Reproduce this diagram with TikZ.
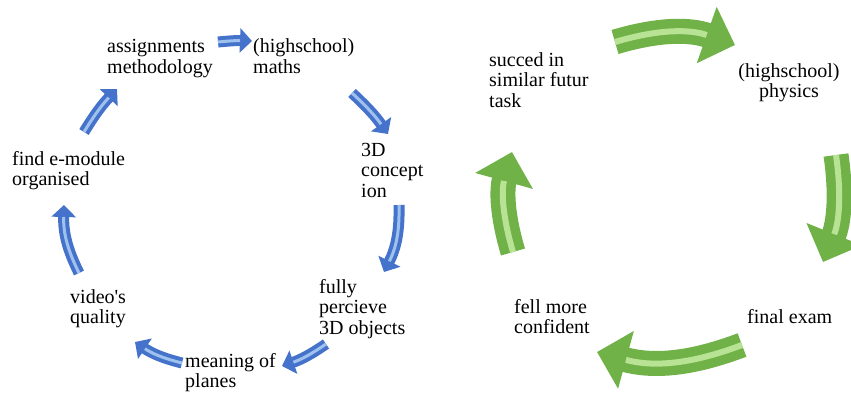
\documentclass[tikz,border=0pt]{standalone}
\usepackage{fontspec}
\setmainfont{Liberation Serif}
\usepackage{xcolor}
\definecolor{cycleblue}{rgb}{0.27, 0.45, 0.80}
\definecolor{paleblue}{rgb}{0.62, 0.76, 0.93}
\definecolor{cyclegreen}{rgb}{0.44, 0.70, 0.28}
\definecolor{palegreen}{rgb}{0.72, 0.89, 0.58}
\usepackage{tikz}
\usetikzlibrary{arrows.meta,positioning,calc}
\tikzset{
  stage/.style={anchor=base west,align=left,inner sep=0pt,font=\fontsize{20}{20.5}\selectfont},
  bluearrow/.style={draw=cycleblue,line width=11pt,-{Triangle[width=24pt,length=12pt]}},
  blueshine/.style={draw=paleblue,line width=3pt,shorten >=12pt},
  greenarrow/.style={draw=cyclegreen,line width=25pt,-{Triangle[width=58pt,length=30pt]}},
  greenshine/.style={draw=palegreen,line width=6pt,shorten >=30pt}
}

\begin{document}
\begin{tikzpicture}[x=1pt,y=1pt]
  \useasboundingbox (0,0) rectangle (851,392);

  % left cycle (base = last line)
  \node[stage] (assign) at (107,319) {assignments\\methodology};
  \node[stage] (maths) at (253,319) {(highschool)\\maths};
  \node[stage] (concept) at (361,195) {3D\\concept\\ion};
  \node[stage] (perceive) at (319,58) {fully\\percieve\\3D objects};
  \node[stage] (planes) at (185,4.5) {meaning of\\planes};
  \node[stage] (video) at (70,68.5) {video\textquotesingle s\\quality};
  \node[stage] (emodule) at (12,206.5) {find e-module\\organised};

  \coordinate (b1s) at (218,350); \coordinate (b1e) at (252,351);
  \coordinate (b2s) at (352,299); \coordinate (b2e) at (388,258);
  \coordinate (b3s) at (399,187); \coordinate (b3e) at (384,120);
  \coordinate (b4s) at (326,48);  \coordinate (b4e) at (282,26);
  \coordinate (b5s) at (182,29);  \coordinate (b5e) at (135,50);
  \coordinate (b6s) at (79,119);  \coordinate (b6e) at (64,187);
  \coordinate (b7s) at (84,260);  \coordinate (b7e) at (117,303);

  \foreach \i/\b in {1/4,2/6,3/14,4/8,5/10,6/14,7/6} {
    \draw[bluearrow] (b\i s) to[bend left=\b] (b\i e);
    \draw[blueshine] (b\i s) to[bend left=\b] (b\i e);
  }

  % right cycle
  \node[stage] (succeed) at (489,285) {succed in\\similar futur\\task};
  \node[stage,anchor=base,align=center] (physics) at (789,294.5) {(highschool)\\physics};
  \node[stage] (exam) at (747,69) {final exam};
  \node[stage] (confident) at (514,58.5) {fell more\\confident};

  \coordinate (g1s) at (615,350); \coordinate (g1e) at (735,347);
  \coordinate (g2s) at (836,237); \coordinate (g2e) at (823,130);
  \coordinate (g3s) at (742,47);  \coordinate (g3e) at (597,40);
  \coordinate (g4s) at (513,140); \coordinate (g4e) at (512,240);

  \foreach \i/\b in {1/18,2/15,3/18,4/16} {
    \draw[greenarrow] (g\i s) to[bend left=\b] (g\i e);
    \draw[greenshine] (g\i s) to[bend left=\b] (g\i e);
  }
\end{tikzpicture}
\end{document}
